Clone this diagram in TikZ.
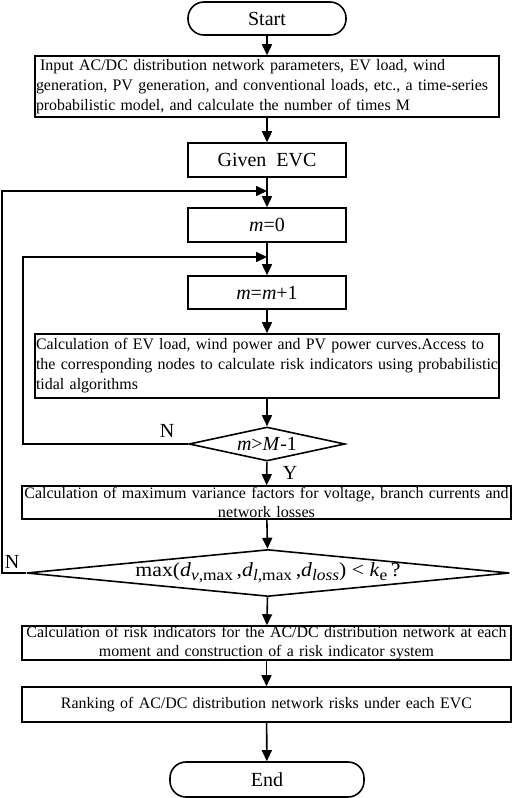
\documentclass[tikz,border=0pt]{standalone}
\usepackage{fontspec}
\usepackage{graphicx}
\setmainfont{Liberation Serif}
\usetikzlibrary{shapes.geometric,arrows.meta}
\newcommand\mysub[1]{\raisebox{-4.5pt}{\fontsize{16}{16}\selectfont #1}}
\newcommand\fitw[2]{\resizebox{#1}{\height}{#2}}
\begin{document}
\begin{tikzpicture}[x=1pt,y=-1pt,
  box/.style={draw,line width=1.6pt,inner ysep=0pt,inner xsep=1pt,font=\fontsize{16}{20}\selectfont},
  smallbox/.style={box,minimum width=158pt,font=\fontsize{20}{24}\selectfont},
  term/.style={box,rounded corners=16pt,font=\fontsize{20}{24}\selectfont},
  wideL/.style={box,text width=462pt,align=left},
  wideC/.style={box,text width=487pt,align=center},
  dia/.style={draw,diamond,line width=1.6pt,inner sep=0pt,font=\fontsize{20}{24}\selectfont},
  arr/.style={line width=1.6pt,-{Triangle[length=11pt,width=10pt]}},
  lbl/.style={font=\fontsize{20}{24}\selectfont,inner sep=0pt},
  ]
\useasboundingbox (0,0) rectangle (512,798);

\node[term,minimum width=158pt,minimum height=33pt] (start) at (267,18.5) {Start};
\node[wideL,minimum height=61pt] (input) at (267,86.5) {\hspace{4pt}\fitw{405pt}{Input AC/DC distribution network parameters, EV load, wind}\\ \fitw{452pt}{generation, PV generation, and conventional loads, etc., a time-series}\\ \fitw{374pt}{probabilistic model, and calculate the number of times M}};
\node[smallbox,minimum height=34pt] (given) at (267,160) {Given\ \ EVC};
\node[smallbox,minimum height=34pt] (m0) at (267,225) {\textit{m}=0};
\node[smallbox,minimum height=33pt] (m1) at (267,292.5) {\textit{m}=\textit{m}+1};
\node[wideL,minimum height=64pt] (calc) at (267,366) {\fitw{448pt}{Calculation of EV load, wind power and PV power curves.Access to}\\ \fitw{462pt}{the corresponding nodes to calculate risk indicators using probabilistic}\\ \fitw{102pt}{tidal algorithms}};
\node[dia,minimum width=156pt,minimum height=34pt,aspect=4.6] (d1) at (267,444) {\textit{m}>\textit{M}-1};
\node[wideC,minimum height=33pt,font=\fontsize{16}{19}\selectfont] (var) at (266.5,502.5) {\fitw{484pt}{Calculation of maximum variance factors for voltage, branch currents and}\\ \fitw{97pt}{network losses}};
\node[dia,minimum width=483pt,minimum height=47pt,aspect=10.3] (d2) at (268,573) {\fitw{265pt}{max(\textit{d}\mysub{\textit{v},max}\,,\textit{d}\mysub{\textit{l},max}\,,\textit{d}\mysub{\textit{loss}}) < \textit{k}\mysub{e}\,?}};
\node[wideC,minimum height=34pt,font=\fontsize{16}{19}\selectfont] (risk) at (266.5,643) {\fitw{480pt}{Calculation of risk indicators for the AC/DC distribution network at each}\\ \fitw{335pt}{moment and construction of a risk indicator system}};
\node[wideC,minimum height=35pt] (rank) at (266.5,704.5) {\fitw{411pt}{Ranking of AC/DC distribution network risks under each EVC}};
\node[term,minimum width=194pt,minimum height=35pt] (end) at (267,779.5) {End};

\coordinate (j1) at (267,191);
\coordinate (j2) at (267,257);
\coordinate (o1) at (2,573);
\coordinate (o2) at (2,191);
\coordinate (i1) at (23,444);
\coordinate (i2) at (23,257);

\draw[arr] (start) -- (input);
\draw[arr] (input) -- (given);
\draw[arr] (given) -- (m0);
\draw[arr] (m0) -- (m1);
\draw[arr] (m1) -- (calc);
\draw[arr] (calc) -- (d1);
\draw[arr] (d1) -- (var);
\draw[arr] (var) -- (d2);
\draw[arr] (d2) -- (risk);
\draw[arr] (risk) -- (rank);
\draw[arr] (rank) -- (end);

\draw[arr] (d1.west) -- (i1) -- (i2) -- (j2);
\draw[arr] (d2.west) -- (o1) -- (o2) -- (j1);

\node[lbl] (nl1) at (167,431) {N};
\node[lbl] (yl) at (290,473) {Y};
\node[lbl] (nl2) at (12,562) {N};
\end{tikzpicture}
\end{document}
